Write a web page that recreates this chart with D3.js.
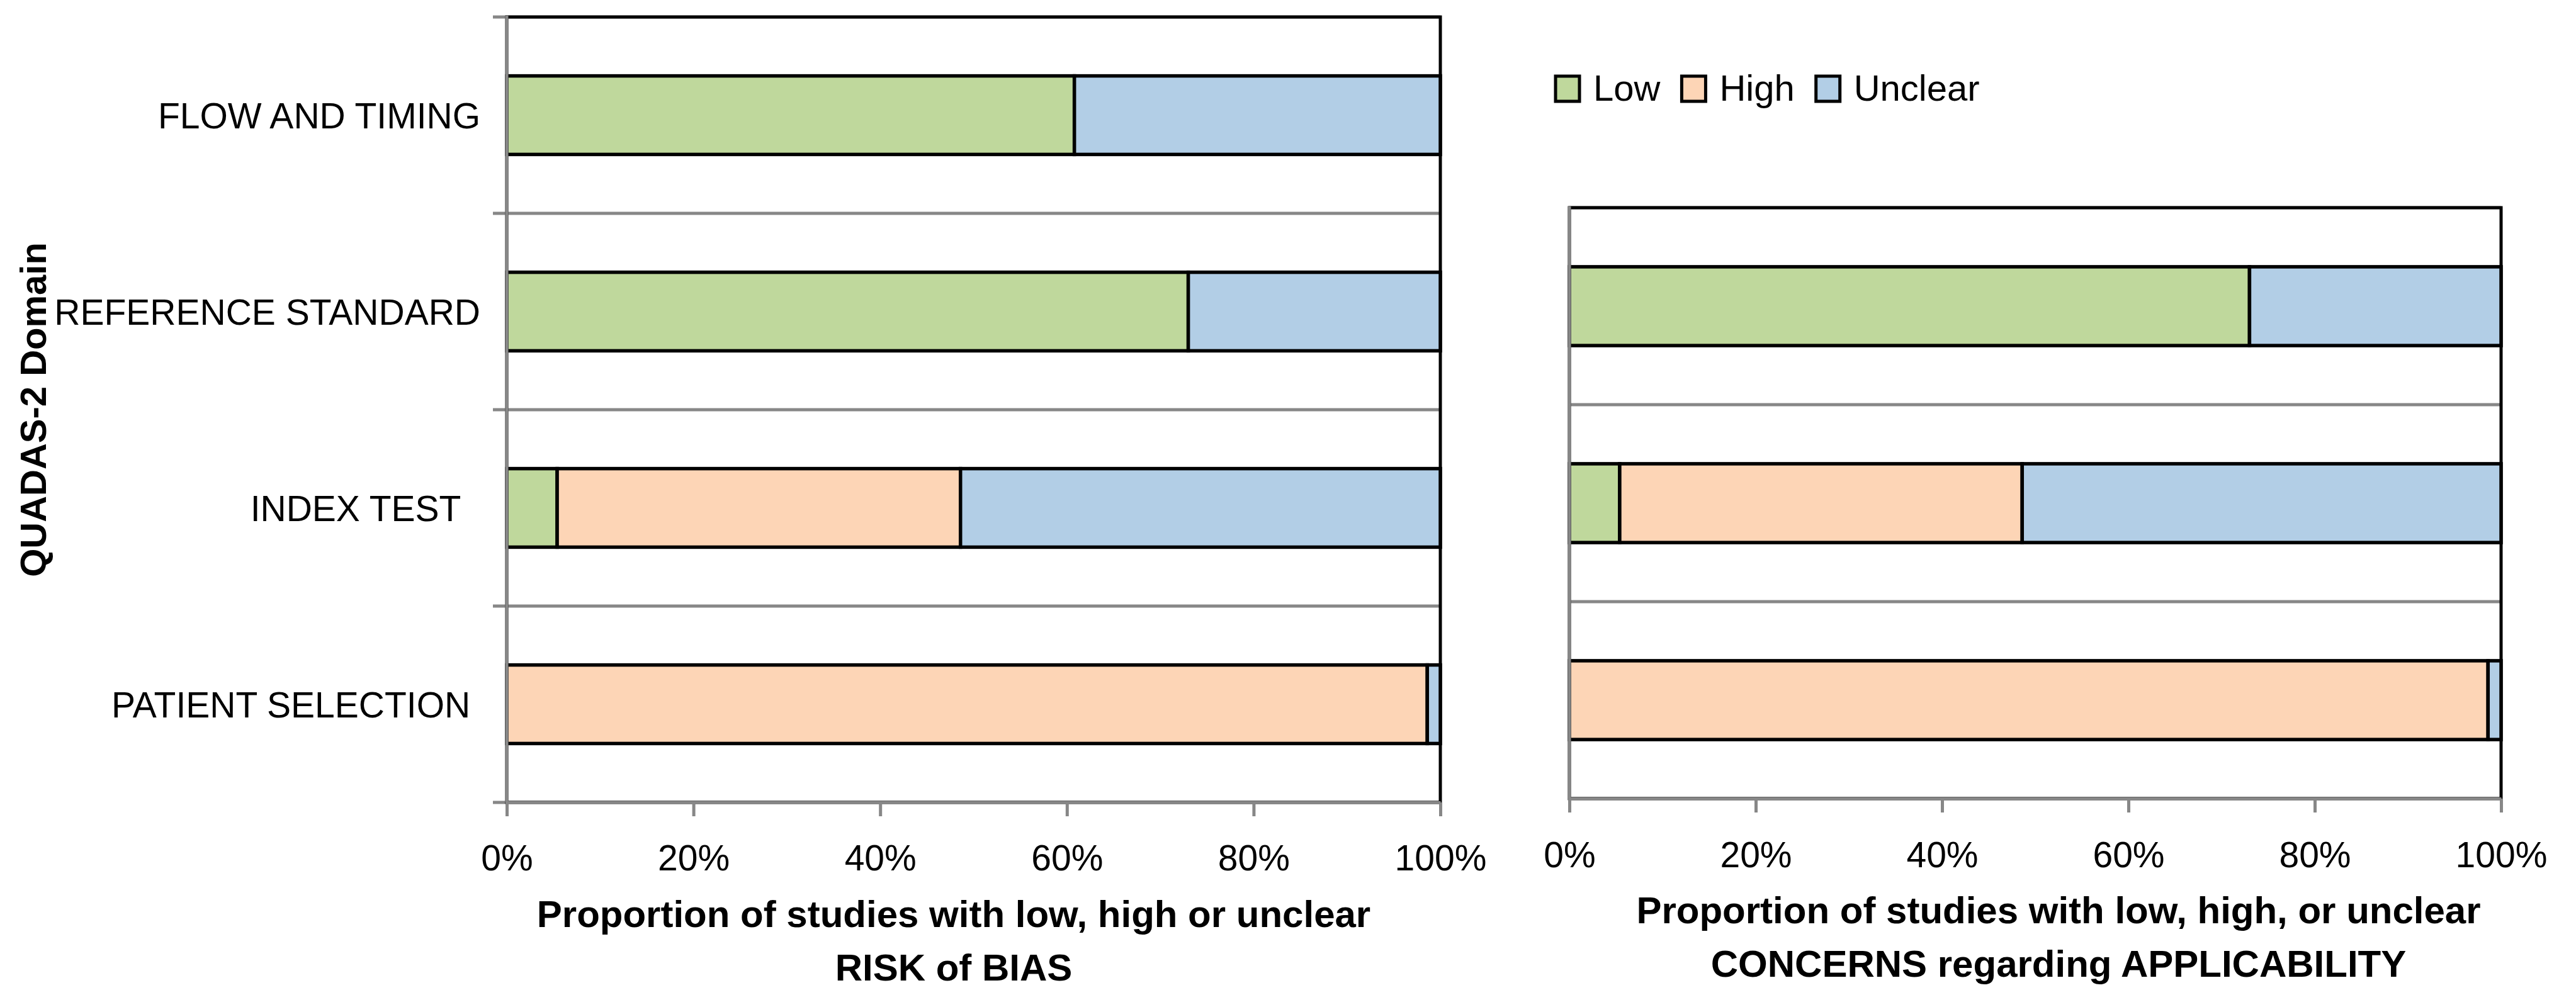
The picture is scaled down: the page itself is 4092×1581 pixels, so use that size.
<!DOCTYPE html>
<html>
<head>
<meta charset="utf-8">
<script src="https://cdn.jsdelivr.net/npm/d3@7"></script>
<style>
  body { margin: 0; background: #fff; }
  text { font-family: "Liberation Sans", Arial, sans-serif; white-space: pre; }
</style>
</head>
<body>
<svg id="chart" width="4092" height="1581"></svg>
<script>
const seriesKeys = ["Low", "High", "Unclear"];
const seriesColors = ["#BFD89C", "#FDD5B6", "#B2CEE6"];

// risk of bias, listed top to bottom
const biasDomains = ["FLOW AND TIMING", "REFERENCE STANDARD", "INDEX TEST  ", "PATIENT SELECTION "];
const biasLow = [60.8, 73.0, 5.4, 0];
const biasHigh = [0, 0, 43.2, 98.6];
const biasUnclear = [39.2, 27.0, 51.4, 1.4];

// applicability concerns, listed top to bottom
const applDomains = ["REFERENCE STANDARD", "INDEX TEST", "PATIENT SELECTION"];
const applLow = [73.0, 5.4, 0];
const applHigh = [0, 43.2, 98.6];
const applUnclear = [27.0, 51.4, 1.4];

const xTicks = [0, 20, 40, 60, 80, 100];

const gray = "#878787";
const svg = d3.select("#chart");
const color = d3.scaleOrdinal().domain(seriesKeys).range(seriesColors);

function panel(cfg) {
    const g = svg.append("g");

    const x = d3.scaleLinear()
                .domain([0, 100])
                .range([cfg.x0, cfg.x1]);

    const y = d3.scaleBand()
                .domain(cfg.domains)
                .range([cfg.y0, cfg.y1])
                .paddingInner(0.6)
                .paddingOuter(0.3);

    const rows = cfg.domains.map((d, i) => ({
        domain: d, Low: cfg.low[i], High: cfg.high[i], Unclear: cfg.unclear[i]
    }));
    const stacked = d3.stack().keys(seriesKeys)(rows);

    // category boundaries (gridlines)
    const pad = (y.step() - y.bandwidth()) / 2;
    const bounds = cfg.domains.map(d => y(d) - pad).concat([cfg.y1]);
    const tickLen = cfg.yTicks ? 22 : 0;

    g.selectAll(".grid")
        .data(bounds)
        .enter()
        .append("line")
        .attr("class", "grid")
        .attr("x1", cfg.x0 - tickLen)
        .attr("x2", cfg.x1)
        .attr("y1", d => d)
        .attr("y2", d => d)
        .attr("stroke", gray)
        .attr("stroke-width", 5);

    // plot border
    g.append("rect")
        .attr("x", cfg.x0)
        .attr("y", cfg.y0)
        .attr("width", cfg.x1 - cfg.x0)
        .attr("height", cfg.y1 - cfg.y0)
        .attr("fill", "none")
        .attr("stroke", "#000")
        .attr("stroke-width", 5);

    // bars
    g.selectAll(".series")
        .data(stacked)
        .enter()
        .append("g")
        .attr("fill", d => color(d.key))
        .selectAll("rect")
        .data(d => d.filter(s => s[1] - s[0] > 0))
        .enter()
        .append("rect")
        .attr("x", d => x(d[0]))
        .attr("y", d => y(d.data.domain))
        .attr("width", d => x(d[1]) - x(d[0]))
        .attr("height", y.bandwidth())
        .attr("stroke", "#000")
        .attr("stroke-width", 5.5);

    // y axis line
    g.append("line")
        .attr("x1", cfg.x0).attr("x2", cfg.x0)
        .attr("y1", cfg.y0 - 2).attr("y2", cfg.y1)
        .attr("stroke", gray)
        .attr("stroke-width", 5);

    // x axis
    g.append("g")
        .attr("transform", `translate(0, ${cfg.y1})`)
        .call(d3.axisBottom(x).tickValues(xTicks).tickFormat(d => d + "%").tickSize(22).tickSizeOuter(0))
        .call(a => {
            a.attr("font-family", null).attr("font-size", null);
            a.select(".domain").attr("stroke", gray).attr("stroke-width", 5);
            a.selectAll(".tick line").attr("stroke", gray).attr("stroke-width", 5);
            a.selectAll(".tick text")
                .attr("y", cfg.tickLabelY)
                .attr("dy", 0)
                .attr("fill", "#000")
                .style("font-size", "57px");
        });

    // category labels
    if (cfg.showLabels) {
        g.selectAll(".cat")
            .data(cfg.domains)
            .enter()
            .append("text")
            .attr("class", "cat")
            .text(d => d)
            .attr("x", cfg.x0 - 42)
            .attr("y", d => y(d) + y.bandwidth() / 2)
            .attr("dy", "0.36em")
            .attr("text-anchor", "end")
            .style("font-size", "57px");
    }

    // axis title
    g.selectAll(".title")
        .data(cfg.title)
        .enter()
        .append("text")
        .text(d => d)
        .attr("x", cfg.titleX)
        .attr("y", (d, i) => cfg.titleY + i * 85)
        .attr("text-anchor", "middle")
        .style("font-size", "60px")
        .style("font-weight", "bold");
}

panel({
    x0: 805, x1: 2288, y0: 27, y1: 1275,
    domains: biasDomains, low: biasLow, high: biasHigh, unclear: biasUnclear,
    yTicks: true, showLabels: true, tickLabelY: 108,
    title: ["Proportion of studies with low, high or unclear", "RISK of BIAS"],
    titleX: 1515, titleY: 1473
});

panel({
    x0: 2493, x1: 3973, y0: 330, y1: 1269,
    domains: applDomains, low: applLow, high: applHigh, unclear: applUnclear,
    yTicks: false, showLabels: false, tickLabelY: 109,
    title: ["Proportion of studies with low, high, or unclear", "CONCERNS regarding APPLICABILITY"],
    titleX: 3270, titleY: 1467
});

// y axis title
svg.append("text")
    .text("QUADAS-2 Domain")
    .attr("transform", "translate(73, 651) rotate(-90)")
    .attr("text-anchor", "middle")
    .style("font-size", "58px")
    .style("font-weight", "bold");

// legend
const legend = svg.append("g").attr("transform", "translate(2471, 121)");
let lx = 0;
seriesKeys.forEach(k => {
    const item = legend.append("g").attr("transform", `translate(${lx}, 0)`);
    item.append("rect")
        .attr("width", 38)
        .attr("height", 40)
        .attr("fill", color(k))
        .attr("stroke", "#000")
        .attr("stroke-width", 5);
    const t = item.append("text")
        .text(k)
        .attr("x", 60)
        .attr("y", 39)
        .style("font-size", "58px");
    lx += 60 + t.node().getComputedTextLength() + 34;
});
</script>
</body>
</html>
